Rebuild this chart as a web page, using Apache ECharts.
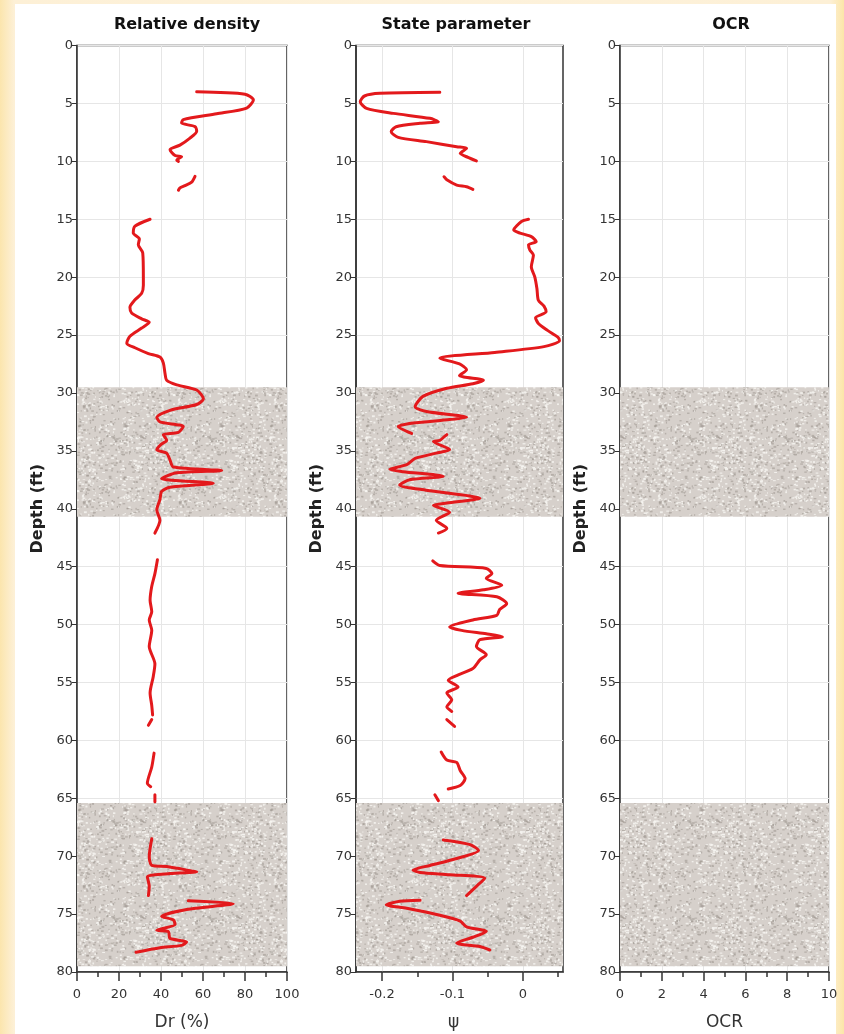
<!DOCTYPE html>
<html>
<head>
<meta charset="utf-8">
<script src="https://cdn.jsdelivr.net/npm/echarts@6/dist/echarts.min.js"></script>
<style>
  html, body { margin: 0; padding: 0; }
  body {
    width: 844px; height: 1034px; position: relative; overflow: hidden;
    background: linear-gradient(90deg, #fbe5ad 0px, #fdf0d6 14px, #fdf2dc 400px, #fdf0d6 830px, #fce6a8 844px);
  }
  #paper { position: absolute; left: 15px; top: 4px; width: 821px; height: 1030px; background: #fff; }
  #main { position: absolute; left: 0; top: 0; width: 844px; height: 1034px; }
</style>
</head>
<body>
<div id="paper"></div>
<div id="main"></div>
<script>
// depth (ft) and relative density Dr (%); null = gap in the log
var drDepth = [4.0, 4.2, 4.7, 5.4, 5.9, 6.4, 6.7, 7.0, 7.4, 8.0, 8.6, 9.0, 9.5, 9.6, 9.9, 10.0, null,
  11.3, 11.8, 12.1, 12.3, 12.5, null,
  15.0, 15.6, 16.2, 16.7, 17.2, 17.9, 20.0, 20.7, 21.4, 22.0, 22.6, 23.1, 23.6, 23.9, 24.4, 25.1, 25.7, 26.1, 26.6, 26.9, 27.4, 28.3, 28.9,
  29.3, 29.75, 30.5, 31.0, 31.5, 32.1, 32.5, 32.9, 33.4, 33.6, 34.1, 34.4, 34.9, 35.2, 35.8, 36.4, 36.7, 36.9, 37.4, 37.8, 38.15, 38.5, 39.2, 40.1, 41.0, 42.1, null,
  44.4, 45.6, 46.7, 47.9, 48.9, 49.6, 50.5, 51.9, 53.4, 54.5, 55.9, 57.0, 57.8, null, 58.2, 58.7, null,
  61.1, 62.3, 63.7, 64.0, null, 64.7, 65.3, null,
  68.5, 70.05, 70.8, 70.9, 71.3, 71.35, 71.5, 71.8, 72.6, 73.4, null,
  73.85, 74.1, 74.6, 75.2, 75.5, 75.9, 76.4, 76.5, 77.1, 77.4, 77.7, 77.9, 78.3];
var drValue = [57, 80, 84, 80.8, 66.5, 50.6, 49.8, 56.2, 57, 53.8, 49, 44.3, 46.7, 49.8, 47.5, 48.3, null,
  56.2, 54.6, 51.4, 49, 48.3, null,
  34.8, 27.6, 26.8, 29.7, 29.2, 31.3, 31.6, 31.6, 30.8, 27.4, 25.2, 26, 30.8, 34.4, 30.8, 25.2, 23.7, 27.6, 34, 39.5, 41.1, 41.9, 42.7,
  47.5, 57, 60.2, 57, 44.3, 38, 39.5, 50.6, 48.3, 41.1, 42.7, 40.3, 38, 42.7, 44.3, 45.9, 68.9, 47.5, 40.3, 64.9, 44.3, 40.3, 39.5, 38, 39.5, 37.1, null,
  38.3, 37.1, 35.6, 34.8, 35.6, 34.4, 35.6, 34.4, 37.1, 36.3, 34.8, 35.6, 36, null, 35.6, 34, null,
  36.7, 35.6, 33.5, 35.1, null, 37.1, 37.1, null,
  35.6, 34.4, 35.6, 42.7, 55.4, 57, 44.3, 33.5, 34.4, 34, null,
  53, 74.4, 52.2, 40.3, 45.9, 46.7, 38, 43.5, 44.3, 52.2, 49.8, 39.5, 28.1];

// depth (ft) and state parameter psi
var psiDepth = [4.04, 4.13, 4.36, 4.85, 5.43, 5.86, 6.29, 6.58, 6.72, 7.01, 7.44, 7.93, 8.3, 8.74, 8.88, 9.31, 9.66, 9.97, null,
  11.33, 11.6, 12.05, 12.19, 12.42, null,
  15.0, 15.2, 15.93, 16.2, 16.5, 16.94, 17.2, 17.66, 18.1, 19.1, 20.0, 21.0, 22.0, 22.5, 23.0, 23.5, 24.0, 24.6, 25.2, 25.5, 26.0, 26.5, 27.0, 27.5, 28.0, 28.5,
  28.9, 29.2, 29.6, 30.3, 31.2, 31.6, 32.1, 32.3, 32.6, 32.9, 33.5, null,
  33.6, 33.8, 34.1, 34.2, 34.9, 35.2, 35.65, 36.2, 36.6, 36.8, 37.2, 37.5, 37.95, 38.4, 39.1, 39.5, 39.7, 40.3, 41.0, 41.7, 42.1, null,
  44.5, 44.9, 45.15, 45.6, 46.0, 46.6, 47.0, 47.3, 47.6, 48.2, 48.7, 49.2, 49.6, 50.2, 50.5, 50.8, 51.05, 51.3, 51.9, 52.6, 53.05, 53.8, 54.4, 54.8, 55.4, 55.9, 56.5, 57.1, 57.5, null,
  58.2, 58.8, null,
  61.0, 61.7, 61.9, 62.6, 63.3, 63.9, 64.2, null, 64.7, 65.2, null,
  68.6, 69.0, 69.5, 70.2, 70.8, 71.2, 71.4, 71.6, 71.9, 72.6, 73.4, null,
  73.8, 73.9, 74.2, 74.5, 75.1, 75.6, 76.1, 76.5, 77.0, 77.5, 77.8, 78.1];
var psiValue = [-0.118, -0.203, -0.225, -0.231, -0.222, -0.184, -0.132, -0.120, -0.146, -0.180, -0.187, -0.177, -0.137, -0.094, -0.080, -0.089, -0.078, -0.066, null,
  -0.112, -0.108, -0.094, -0.080, -0.071, null,
  0.008, -0.002, -0.013, -0.004, 0.012, 0.019, 0.008, 0.010, 0.015, 0.012, 0.017, 0.020, 0.022, 0.030, 0.033, 0.018, 0.022, 0.035, 0.050, 0.052, 0.030, -0.040, -0.118, -0.090, -0.080, -0.090,
  -0.056, -0.071, -0.108, -0.142, -0.153, -0.137, -0.080, -0.104, -0.156, -0.177, -0.158, null,
  -0.108, -0.112, -0.118, -0.127, -0.104, -0.123, -0.153, -0.165, -0.189, -0.170, -0.113, -0.161, -0.175, -0.137, -0.061, -0.108, -0.127, -0.104, -0.123, -0.108, -0.120, null,
  -0.128, -0.118, -0.052, -0.044, -0.052, -0.030, -0.056, -0.092, -0.037, -0.023, -0.033, -0.037, -0.071, -0.104, -0.087, -0.052, -0.029, -0.061, -0.066, -0.052, -0.061, -0.071, -0.094, -0.106, -0.092, -0.108, -0.101, -0.108, -0.101, null,
  -0.108, -0.097, null,
  -0.116, -0.108, -0.094, -0.089, -0.082, -0.089, -0.106, null, -0.125, -0.120, null,
  -0.113, -0.075, -0.063, -0.094, -0.132, -0.156, -0.146, -0.104, -0.054, -0.066, -0.080, null,
  -0.146, -0.175, -0.194, -0.165, -0.118, -0.089, -0.080, -0.052, -0.071, -0.094, -0.061, -0.047];

// shaded soil layers (ft)
var bandTop = [29.5, 65.4];
var bandBottom = [40.7, 79.5];

var titles = ['Relative density', 'State parameter', 'OCR'];
var xNames = ['Dr (%)', '\u03c8', 'OCR'];
var psiMajorTicks = [-0.2, -0.1, 0];
var psiMinorTicks = [-0.15, -0.05, 0.05];

function pairs(xs, ys) {
  return ys.map(function (d, i) {
    return d === null ? [null, null] : [xs[i], d];
  });
}

// granular texture for the shaded layers
function makeTexture() {
  var c = document.createElement('canvas');
  c.width = 96; c.height = 96;
  var ctx = c.getContext('2d');
  ctx.fillStyle = '#d6d0cb';
  ctx.fillRect(0, 0, 96, 96);
  var seed = 7;
  function rnd() { seed = (seed * 16807) % 2147483647; return seed / 2147483647; }
  for (var k = 0; k < 900; k++) {
    var x = rnd() * 96, y = rnd() * 96;
    var light = rnd() > 0.5;
    ctx.fillStyle = light ? 'rgba(248,246,243,0.8)' : 'rgba(160,153,147,0.6)';
    ctx.fillRect(x, y, 1 + rnd() * 2, 1 + rnd());
  }
  return c;
}
var texture = makeTexture();

var grids = [
  { left: 77, top: 45.5, width: 210, height: 926.5 },
  { left: 356, top: 45.5, width: 207, height: 926.5 },
  { left: 620, top: 45.5, width: 209, height: 926.5 }
];
var centers = [182, 451, 726];

var labelStyle = { color: '#333', fontSize: 13, fontFamily: 'DejaVu Sans' };
var lineDark = { color: '#333', width: 1.5 };

var chart = echarts.init(document.getElementById('main'));

var yAxes = grids.map(function (g, i) {
  return {
    gridIndex: i, type: 'value', inverse: true, min: 0, max: 80, interval: 5,
    name: 'Depth (ft)', nameLocation: 'middle', nameGap: 31,
    nameTextStyle: { color: '#222', fontSize: 16, fontWeight: 'bold', fontFamily: 'DejaVu Sans' },
    axisLine: { show: true, onZero: false, lineStyle: lineDark },
    axisTick: { show: true, length: 5, lineStyle: { color: '#333' } },
    axisLabel: Object.assign({ margin: 4 }, labelStyle),
    splitLine: { show: true, lineStyle: { color: '#e6e6e6' } }
  };
});

function baseX(i, extra) {
  return Object.assign({
    gridIndex: i, type: 'value', position: 'bottom',
    name: xNames[i], nameLocation: 'middle', nameGap: 42,
    nameTextStyle: { color: '#333', fontSize: 17, fontFamily: 'DejaVu Sans' },
    axisLine: { show: true, onZero: false, lineStyle: lineDark },
    axisTick: { show: true, length: 9, lineStyle: { color: '#333', width: 1.5 } },
    axisLabel: Object.assign({ margin: 16 }, labelStyle),
    splitLine: { show: true, lineStyle: { color: '#e6e6e6' } }
  }, extra);
}

var xAxes = [
  baseX(0, { min: 0, max: 100, interval: 20,
    minorTick: { show: true, splitNumber: 2, length: 5, lineStyle: { color: '#333', width: 1.5 } } }),
  baseX(1, { min: -0.237, max: 0.057,
    nameTextStyle: { color: '#333', fontSize: 17, fontFamily: 'DejaVu Sans', padding: [0, 12, 0, 0] },
    axisTick: { show: true, length: 9, customValues: psiMajorTicks, lineStyle: { color: '#333', width: 1.5 } },
    axisLabel: Object.assign({ margin: 16, customValues: psiMajorTicks }, labelStyle) }),
  baseX(2, { min: 0, max: 10, interval: 2,
    minorTick: { show: true, splitNumber: 2, length: 5, lineStyle: { color: '#333', width: 1.5 } } }),
  // minor ticks of the psi axis
  { gridIndex: 1, type: 'value', position: 'bottom', min: -0.237, max: 0.057,
    axisLine: { show: false, onZero: false }, axisLabel: { show: false }, splitLine: { show: false },
    axisTick: { show: true, length: 5, customValues: psiMinorTicks, lineStyle: { color: '#333', width: 1.5 } } }
];

function bandArea() {
  return {
    silent: true,
    itemStyle: { color: { image: texture, repeat: 'repeat' } },
    data: bandTop.map(function (t, k) { return [{ yAxis: t }, { yAxis: bandBottom[k] }]; })
  };
}

var redLine = { color: '#e3191c', width: 3, cap: 'round', join: 'round' };

var series = [
  { type: 'line', xAxisIndex: 0, yAxisIndex: 0, symbol: 'none', smooth: 0.25, connectNulls: false,
    lineStyle: redLine, data: pairs(drValue, drDepth), markArea: bandArea(), z: 3 },
  { type: 'line', xAxisIndex: 1, yAxisIndex: 1, symbol: 'none', smooth: 0.25, connectNulls: false,
    lineStyle: redLine, data: pairs(psiValue, psiDepth), markArea: bandArea(), z: 3 },
  { type: 'line', xAxisIndex: 2, yAxisIndex: 2, symbol: 'none', data: [], markArea: bandArea() }
];

chart.setOption({
  animation: false,
  backgroundColor: 'transparent',
  title: titles.map(function (t, i) {
    return { text: t, left: centers[i], top: 12, textAlign: 'center',
      textStyle: { color: '#111', fontSize: 16, fontWeight: 'bold', fontFamily: 'DejaVu Sans' } };
  }),
  grid: grids.map(function (g) {
    return Object.assign({ show: true, backgroundColor: '#fff', borderColor: '#333', borderWidth: 1.5,
      containLabel: false, outerBoundsMode: 'none' }, g);
  }),
  xAxis: xAxes,
  yAxis: yAxes,
  series: series
});
</script>
</body>
</html>
